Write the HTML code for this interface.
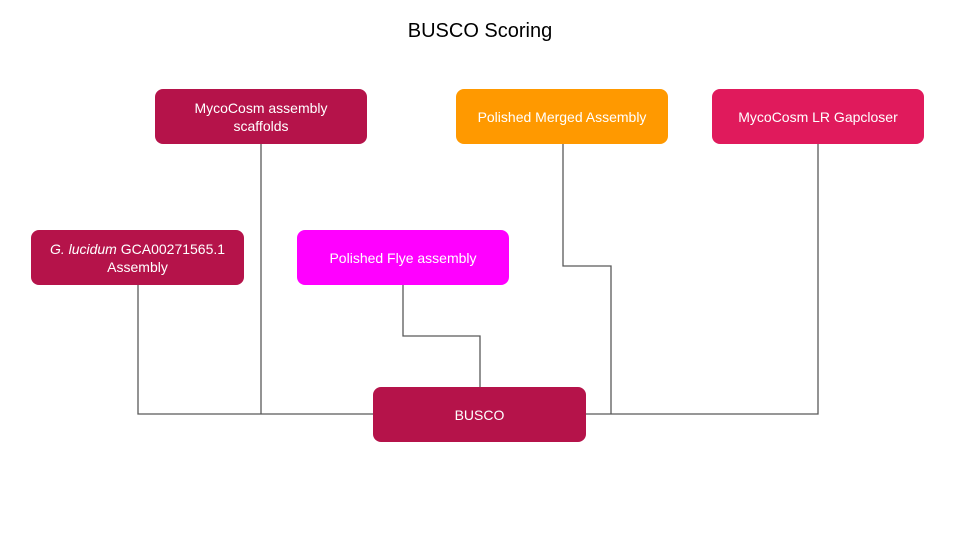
<!DOCTYPE html>
<html><head><style>
body{margin:0;width:960px;height:540px;background:#fff;font-family:"Liberation Sans",Arial,sans-serif;position:relative;overflow:hidden}
.b{position:absolute;border-radius:8px;color:#fff;font-size:14px;display:flex;align-items:center;justify-content:center;text-align:center;line-height:18px}
.t{position:absolute;top:20px;left:0;width:960px;text-align:center;font-size:20px;color:#000}
</style></head><body>
<div class="t">BUSCO Scoring</div>
<svg width="960" height="540" style="position:absolute;left:0;top:0" fill="none" stroke="#595959" stroke-width="1.3">
<polyline points="138,285 138,414 373,414"/>
<polyline points="261,144 261,414"/>
<polyline points="403,285 403,336 480,336 480,387"/>
<polyline points="563,144 563,266 611,266 611,414"/>
<polyline points="586,414 818,414 818,144"/>
</svg>
<div class="b" style="left:155px;top:89px;width:212px;height:55px;background:#B5134A">MycoCosm assembly<br>scaffolds</div>
<div class="b" style="left:456px;top:89px;width:212px;height:55px;background:#FF9900">Polished Merged Assembly</div>
<div class="b" style="left:712px;top:89px;width:212px;height:55px;background:#E01A5C">MycoCosm LR Gapcloser</div>
<div class="b" style="left:31px;top:230px;width:213px;height:55px;background:#B5134A"><span><i>G. lucidum</i> GCA00271565.1<br>Assembly</span></div>
<div class="b" style="left:297px;top:230px;width:212px;height:55px;background:#FF00FF">Polished Flye assembly</div>
<div class="b" style="left:373px;top:387px;width:213px;height:55px;background:#B5134A">BUSCO</div>
</body></html>
